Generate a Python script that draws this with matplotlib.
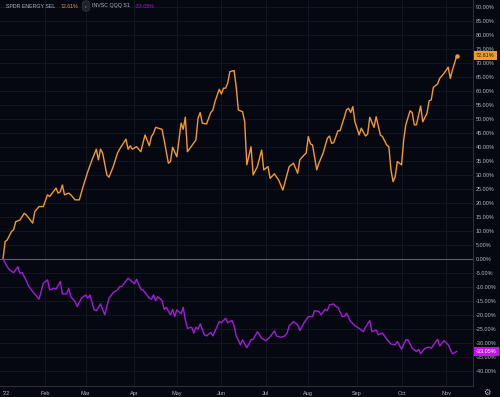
import matplotlib
matplotlib.use("Agg")
import matplotlib.pyplot as plt

# trading-day index (0 = Jan 3 2022) and % change
xle_idx = [0, 1, 2, 4, 5, 6, 8, 10, 11, 14, 15, 17, 19, 21, 22, 25, 26, 27, 28, 29,
           31, 32, 34, 36, 38, 40, 42, 44, 45, 46, 47, 49, 50, 52, 54, 55, 58, 59, 60, 61,
           63, 65, 67, 69, 70, 71, 72, 75, 76, 78, 79, 80, 82, 84, 85, 86, 87, 89, 91, 92,
           93, 94, 96, 98, 99, 100, 102, 103, 104, 105, 106, 107, 109, 110, 111, 113, 114, 115, 117, 118,
           120, 122, 123, 125, 126, 128, 130, 132, 135, 137, 139, 140, 142, 143, 144, 145, 146, 148, 149, 151,
           153, 154, 155, 156, 158, 159, 161, 162, 163, 164, 165, 166, 168, 169, 171, 172, 173, 175, 176, 178,
           179, 181, 182, 183, 184, 185, 186, 188, 189, 190, 192, 193, 194, 195, 197, 198, 200, 201, 202, 203,
           205, 206, 208, 210, 211, 212, 213, 214]
xle_pct = [0.0, 6.2, 6.8, 9.8, 10.4, 13.3, 13.9, 16.3, 15.7, 12.8, 16.9, 18.7, 18.7, 22.9, 22.3, 25.3, 23.5, 24.0, 26.4, 22.9,
           23.5, 22.9, 21.1, 21.1, 26.4, 31.2, 35.4, 39.2, 35.4, 39.2, 37.8, 30.0, 29.2, 33.0, 37.8, 39.2, 42.8, 39.2, 40.4, 39.2,
           40.1, 38.3, 44.3, 40.4, 43.7, 44.9, 47.0, 46.3, 42.5, 34.2, 34.8, 39.9, 36.5, 48.5, 46.3, 50.6, 38.3, 40.4, 42.5, 50.3,
           52.3, 48.5, 48.2, 52.3, 53.2, 56.2, 60.6, 58.9, 61.0, 61.0, 62.8, 66.9, 67.3, 61.5, 53.2, 52.6, 49.0, 33.6, 40.1, 30.0,
           33.0, 38.9, 31.8, 33.0, 28.8, 30.4, 28.2, 24.6, 33.0, 34.2, 30.6, 35.4, 37.1, 37.8, 43.7, 41.1, 40.7, 31.8, 34.2, 37.8,
           43.1, 43.9, 41.3, 41.5, 45.8, 45.8, 50.6, 53.2, 53.8, 52.3, 54.4, 49.0, 44.3, 46.7, 43.9, 44.6, 50.6, 47.0, 50.8, 44.3,
           43.7, 40.7, 40.1, 31.8, 27.6, 29.4, 34.8, 33.6, 42.5, 47.9, 52.9, 52.3, 47.9, 47.9, 54.6, 49.0, 52.0, 56.5, 56.8, 61.3,
           62.5, 64.5, 66.3, 68.5, 64.5, 67.5, 69.9, 72.61]

qqq_idx = [0, 2, 3, 5, 7, 8, 9, 11, 12, 14, 16, 17, 19, 21, 22, 24, 25, 27, 28, 30,
           31, 32, 34, 35, 37, 39, 40, 41, 43, 44, 46, 48, 50, 52, 54, 55, 56, 59, 62, 63,
           65, 66, 69, 70, 71, 72, 73, 75, 76, 77, 79, 80, 81, 82, 84, 85, 86, 87, 89, 90,
           91, 92, 93, 95, 96, 98, 99, 102, 103, 105, 106, 108, 109, 110, 112, 113, 115, 116, 117, 118,
           120, 122, 124, 126, 128, 129, 131, 133, 134, 135, 137, 139, 140, 142, 144, 146, 147, 149, 150, 152,
           153, 154, 156, 157, 158, 160, 161, 162, 164, 166, 168, 170, 171, 173, 174, 176, 177, 179, 181, 183,
           185, 186, 188, 190, 191, 193, 195, 196, 197, 199, 201, 202, 205, 206, 208, 210, 212, 213, 214]
qqq_pct = [0.0, -2.8, -3.9, -4.9, -2.8, -5.1, -4.9, -7.8, -9.6, -11.7, -13.5, -14.4, -8.7, -7.5, -11.1, -10.5, -10.8, -8.1, -12.5, -12.5,
           -10.5, -13.5, -15.3, -17.0, -14.0, -12.9, -14.0, -12.9, -18.2, -18.5, -16.1, -20.0, -14.0, -12.0, -11.1, -9.9, -9.9, -6.9, -8.9, -7.3,
           -10.8, -11.1, -14.0, -14.4, -12.9, -14.9, -13.5, -14.9, -18.0, -17.3, -20.0, -18.0, -20.6, -18.2, -19.6, -17.3, -21.8, -24.8, -24.4, -26.5,
           -24.4, -25.1, -23.2, -27.1, -27.5, -26.3, -27.5, -22.4, -22.8, -21.2, -22.8, -22.0, -23.9, -27.5, -30.7, -28.9, -31.7, -30.4, -28.9, -28.7,
           -26.0, -28.3, -29.2, -27.8, -25.7, -27.5, -28.0, -27.5, -26.5, -23.9, -22.4, -23.6, -25.6, -22.8, -20.6, -20.6, -18.5, -18.8, -20.0, -18.0,
           -18.5, -16.4, -16.1, -17.0, -17.3, -20.6, -20.6, -19.4, -22.4, -23.9, -24.8, -26.0, -24.4, -22.0, -26.0, -25.4, -27.1, -26.5, -28.7, -30.4,
           -30.7, -29.5, -32.3, -28.9, -28.9, -31.9, -33.1, -32.3, -33.9, -31.9, -31.5, -31.9, -28.7, -31.1, -29.2, -30.7, -33.9, -33.5, -33.05]

month_idx = [0, 20, 39, 62, 82, 103, 124, 144, 167, 188, 209]
month_lbl = ["'22", "Feb", "Mar", "Apr", "May", "Jun", "Jul", "Aug", "Sep", "Oct", "Nov"]
ytick_vals = list(range(-40, 95, 5))

BG = "#060811"
GRID = "#151926"
TXT = "#b2b5be"
ORANGE = "#f59a23"
PURPLE = "#a21cd8"
FS = 4.0    # price / time scale
LFS = 3.8   # legend row

plt.rcParams["font.family"] = ["Liberation Sans", "DejaVu Sans"]

fig = plt.figure(figsize=(5, 3.97), dpi=100, facecolor=BG)
ax = fig.add_axes([0, 11 / 397, 473 / 500, 386 / 397], facecolor=BG)

ax.set_xlim(-1.42, 221.7)
ax.set_ylim(-45.4, 92.5)

for v in ytick_vals:
    ax.axhline(v, color=GRID, lw=0.6, zorder=0)
for m in month_idx[1:]:
    ax.axvline(m, color=GRID, lw=0.6, zorder=0)
ax.axhline(0, color="#5d606b", lw=0.8, zorder=1)

ax.plot(xle_idx, xle_pct, color=ORANGE, lw=1.0, zorder=3)
ax.plot(qqq_idx, qqq_pct, color=PURPLE, lw=1.0, zorder=3)
ax.plot(xle_idx[-1], xle_pct[-1], "o", color=ORANGE, ms=2.2, zorder=4)

ax.yaxis.tick_right()
ax.set_yticks(ytick_vals)
ax.set_yticklabels(["%.2f%%" % v for v in ytick_vals])
ax.set_xticks(month_idx)
ax.set_xticklabels(month_lbl)
ax.tick_params(axis="both", length=0, colors=TXT, labelsize=FS)
ax.tick_params(axis="y", pad=2.2)
ax.tick_params(axis="x", pad=3.5)
ax.get_xticklabels()[0].set_horizontalalignment("left")

for s in ["top", "left"]:
    ax.spines[s].set_visible(False)
ax.spines["right"].set_color("#2a2e39")
ax.spines["bottom"].set_color("#2a2e39")
ax.spines["right"].set_linewidth(0.8)
ax.spines["bottom"].set_linewidth(0.8)

# last value badges on price scale
ax.annotate("%.2f%%" % xle_pct[-1], xy=(1.0, xle_pct[-1]), xycoords=("axes fraction", "data"),
            xytext=(2.2, 0), textcoords="offset points", va="center", ha="left",
            fontsize=FS, color="#131722",
            bbox=dict(boxstyle="square,pad=0.35", fc=ORANGE, ec="none"), zorder=6,
            annotation_clip=False)
ax.annotate("%.2f%%" % qqq_pct[-1], xy=(1.0, qqq_pct[-1]), xycoords=("axes fraction", "data"),
            xytext=(2.2, 0), textcoords="offset points", va="center", ha="left",
            fontsize=FS, color="white",
            bbox=dict(boxstyle="square,pad=0.35", fc="#c810f0", ec="none"), zorder=6,
            annotation_clip=False)

# legend row
ly = 1 - 6 / 397
fig.text(6 / 500, ly, "SPDR ENERGY SEL", color=TXT, fontsize=LFS, va="center")
fig.text(61 / 500, ly, "%.2f%%" % xle_pct[-1], color=ORANGE, fontsize=LFS, va="center")
fig.text(86 / 500, ly, "‹", color=TXT, fontsize=LFS, va="center", ha="center",
         bbox=dict(boxstyle="round,pad=0.5", fc="#1e222d", ec="#363a45", lw=0.5))
fig.text(92 / 500, ly, "INVSC QQQ S1", color=TXT, fontsize=LFS, va="center")
fig.text(135 / 500, ly, "%.2f%%" % qqq_pct[-1], color=PURPLE, fontsize=LFS, va="center")

fig.text(487 / 500, 1 - 392 / 397, "⚙", color=TXT, fontsize=6, ha="center", va="center",
         family="DejaVu Sans")

fig.savefig("out.png", dpi=100, facecolor=BG)
